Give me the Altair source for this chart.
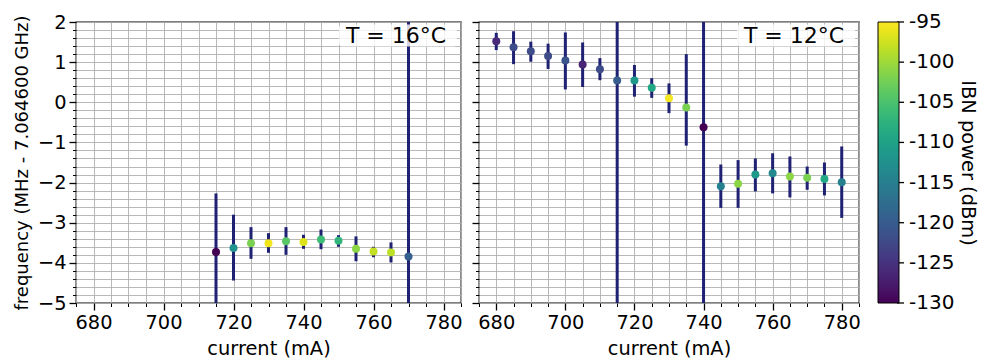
import altair as alt
import pandas as pd

# ---- data ----
cur16 = [715, 720, 725, 730, 735, 740, 745, 750, 755, 760, 765, 770]
f16 = [-3.73, -3.63, -3.51, -3.51, -3.46, -3.48, -3.42, -3.45, -3.65, -3.72, -3.74, -3.84]
lo16 = [-5.19, -4.44, -3.90, -3.75, -3.80, -3.65, -3.66, -3.60, -3.96, -3.86, -3.99, -14.0]
hi16 = [-2.27, -2.80, -3.11, -3.26, -3.11, -3.30, -3.17, -3.31, -3.34, -3.60, -3.49, 6.0]
p16 = [-130, -112.5, -102, -95.7, -104, -96.7, -106, -107, -101, -98, -98.5, -119.5]

cur12 = [680, 685, 690, 695, 700, 705, 710, 715, 720, 725, 730, 735, 740,
         745, 750, 755, 760, 765, 770, 775, 780]
f12 = [1.52, 1.37, 1.27, 1.15, 1.04, 0.94, 0.82, 0.54, 0.54, 0.36, 0.10, -0.13, -0.62,
       -2.09, -2.03, -1.80, -1.77, -1.85, -1.88, -1.91, -1.99]
lo12 = [1.30, 0.95, 1.01, 0.83, 0.32, 0.38, 0.55, -10.0, 0.14, 0.11, -0.27, -1.08, -10.0,
        -2.63, -2.63, -2.22, -2.27, -2.37, -2.18, -2.32, -2.88]
hi12 = [1.73, 1.77, 1.51, 1.46, 1.74, 1.49, 1.10, 10.0, 0.93, 0.60, 0.47, 1.20, 10.0,
        -1.55, -1.44, -1.40, -1.27, -1.35, -1.60, -1.50, -1.10]
p12 = [-126, -122, -122, -122, -121, -126.5, -122, -120, -111, -109, -95.5, -102, -130,
       -115, -101, -111, -113.5, -101, -102, -109, -115]

x_ticks = [675, 680, 685, 690, 695, 700, 705, 710, 715, 720, 725, 730, 735, 740,
           745, 750, 755, 760, 765, 770, 775, 780, 785]
y_ticks = [-5.0, -4.8, -4.6, -4.4, -4.2, -4.0, -3.8, -3.6, -3.4, -3.2, -3.0, -2.8,
           -2.6, -2.4, -2.2, -2.0, -1.8, -1.6, -1.4, -1.2, -1.0, -0.8, -0.6, -0.4,
           -0.2, 0.0, 0.2, 0.4, 0.6, 0.8, 1.0, 1.2, 1.4, 1.6, 1.8, 2.0]
cbar_ticks = [-130, -125, -120, -115, -110, -105, -100, -95]
cbar_labels = ["-130", "-125", "-120", "-115", "-110", "-105", "-100", "-95"]
panel_labels = ["T = 16°C", "T = 12°C"]

FONT = "DejaVu Sans"
TICK_FS = 19.4
CB_FS = 20
ERR_COLOR = "#1f2173"
H = 281
W_LEFT, W_RIGHT = 385, 380
CB_GAP, CB_THICK, CB_TICK, CB_LABEL_PAD = 17, 21, 7, 5
CB_LABEL_W = 2.269 * CB_FS          # width of "-130" in DejaVu Sans
CB_EXTENT = CB_GAP + CB_THICK + CB_TICK + CB_LABEL_PAD + CB_LABEL_W
CB_OFFSET = CB_GAP - CB_EXTENT      # legend measured back from the tick labels' end

df16 = pd.DataFrame({"current": cur16, "freq": f16, "lo": lo16, "hi": hi16, "power": p16})
df12 = pd.DataFrame({"current": cur12, "freq": f12, "lo": lo12, "hi": hi12, "power": p12})
dfcb = pd.DataFrame({"tick": cbar_ticks, "label": cbar_labels})

xmaj = "datum.value % 20 == 0"
ymaj = "abs(datum.value - round(datum.value)) < 0.01"

xscale = alt.Scale(domain=[675, 785], nice=False, zero=False)
yscale = alt.Scale(domain=[-5, 2], nice=False, zero=False)
cdomain = [-130, -95]


def x_axis():
    return alt.Axis(
        values=x_ticks,
        labelExpr=f"{xmaj} ? datum.label : ''",
        labelOverlap=False,
        tickSize={"condition": {"test": xmaj, "value": 7}, "value": 3.5},
        tickWidth={"condition": {"test": xmaj, "value": 1.3}, "value": 1},
        grid=True,
        title="current (mA)",
        titlePadding=8,
    )


def y_axis(show):
    common = dict(
        values=y_ticks,
        labelOverlap=False,
        tickSize={"condition": {"test": ymaj, "value": 7}, "value": 3.5},
        tickWidth={"condition": {"test": ymaj, "value": 1.3}, "value": 1},
        grid=True,
    )
    if show:
        return alt.Axis(
            labelExpr=f"{ymaj} ? format(round(datum.value), 'd') : ''",
            title="frequency (MHz - 7.064600 GHz)",
            titleFontSize=18,
            titlePadding=6,
            **common,
        )
    return alt.Axis(labels=False, title=None, **common)


color = alt.Color(
    "power:Q",
    scale=alt.Scale(scheme="viridis", domain=cdomain, nice=False),
    legend=alt.Legend(
        title="IBN power (dBm)",
        orient="right",
        direction="vertical",
        values=cbar_ticks,
        gradientLength=H,
        gradientThickness=CB_THICK,
        gradientStrokeColor="black",
        gradientStrokeWidth=1,
        labelExpr="''",
        labelOffset=0,
        titleOrient="right",
        titleAnchor="middle",
        titleAlign="center",
        titleBaseline="middle",
        titleFontSize=TICK_FS,
        titleFontWeight="normal",
        titleFont=FONT,
        titleColor="black",
        titlePadding=CB_TICK + CB_LABEL_PAD + CB_LABEL_W + 11,
        offset=CB_OFFSET,
        padding=0,
    ),
)


def panel(df, w, label, show_y, colorbar_axis=False):
    x = alt.X("current:Q", scale=xscale, axis=x_axis())
    ax = y_axis(show_y)
    base = alt.Chart(df)
    err = base.mark_rule(color=ERR_COLOR, strokeWidth=3, clip=True).encode(
        x=x,
        y=alt.Y("lo:Q", scale=yscale, axis=ax),
        y2="hi:Q",
    )
    pts = base.mark_circle(size=64, opacity=1).encode(
        x=x,
        y=alt.Y("freq:Q", scale=yscale, axis=ax),
        color=color,
    )
    lab = alt.Chart(pd.DataFrame({"label": [label]}))
    box = lab.mark_rect(color="white", opacity=0.8, cornerRadius=3).encode(
        x=alt.value(w - 122), x2=alt.value(w - 4), y=alt.value(2.5), y2=alt.value(24.5)
    )
    txt = lab.mark_text(font=FONT, fontSize=22, align="center", baseline="middle",
                        color="black").encode(
        x=alt.value(w - 65), y=alt.value(13.5), text="label:N"
    )
    ch = alt.layer(err, pts, box, txt)
    if colorbar_axis:
        cy = alt.Y("tick:Q", scale=alt.Scale(domain=cdomain, nice=False, zero=False), axis=None)
        cbase = alt.Chart(dfcb)
        cticks = cbase.mark_rule(color="black", strokeWidth=1.3, clip=False).encode(
            x=alt.value(w + CB_GAP + CB_THICK),
            x2=alt.value(w + CB_GAP + CB_THICK + CB_TICK),
            y=cy,
        )
        clabels = cbase.mark_text(font=FONT, fontSize=CB_FS, align="left",
                                  baseline="middle", color="black", clip=False).encode(
            x=alt.value(w + CB_GAP + CB_THICK + CB_TICK + CB_LABEL_PAD),
            y=cy,
            text="label:N",
        )
        ch = alt.layer(ch, cticks, clabels).resolve_scale(y="independent").resolve_axis(y="independent")
    return ch.properties(width=w, height=H)


left = panel(df16, W_LEFT, panel_labels[0], True)
right = panel(df12, W_RIGHT, panel_labels[1], False, colorbar_axis=True)

chart = (
    alt.hconcat(left, right, spacing=7)
    .properties(padding={"left": 4, "top": 3, "right": 0, "bottom": 0})
    .configure(font=FONT)
    .configure_view(stroke="black", strokeWidth=1.3)
    .configure_axis(
        domain=False,
        gridColor="#b0b0b0",
        gridWidth=0.9,
        tickColor="black",
        labelFont=FONT,
        labelFontSize=TICK_FS,
        labelColor="black",
        labelPadding=3,
        titleFont=FONT,
        titleFontSize=TICK_FS,
        titleFontWeight="normal",
        titleColor="black",
        titlePadding=4,
    )
)

chart.save("out.html", embed_options={"renderer": "svg", "actions": False})
